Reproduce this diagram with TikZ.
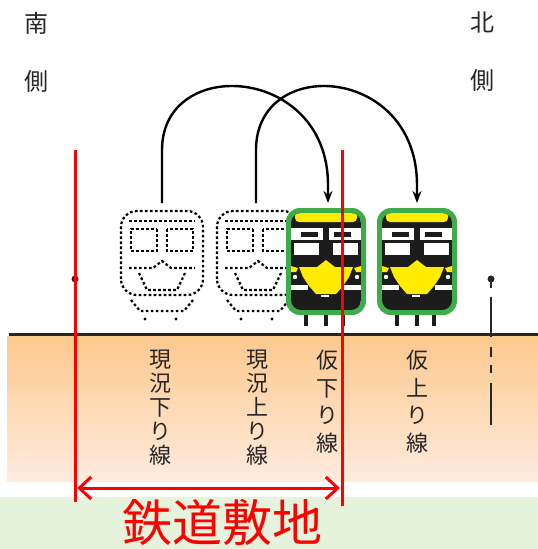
\documentclass[tikz,border=0pt]{standalone}
\usepackage{fontspec}
\newfontfamily\jpfont{Noto Sans CJK JP}
\usetikzlibrary{arrows.meta}

\definecolor{railred}{RGB}{255,0,0}
\definecolor{inkgray}{RGB}{38,38,38}
\definecolor{soiltop}{RGB}{253,201,142}
\definecolor{soilbottom}{RGB}{254,235,222}
\definecolor{lawn}{RGB}{229,242,220}
\definecolor{cabgreen}{RGB}{62,172,72}
\definecolor{cabyellow}{RGB}{255,236,0}
\definecolor{cabblack}{RGB}{28,28,28}

\tikzset{
  trackname/.style={font=\jpfont\fontsize{22}{#1}\selectfont, text=inkgray,
    align=center, anchor=north, inner sep=0pt},
  trackname/.default=24,
  sidename/.style={font=\jpfont\fontsize{24}{58}\selectfont, text=inkgray,
    align=center, inner sep=0pt},
  ghostline/.style={line width=2.2pt, dash pattern=on 2.6pt off 2.4pt, black},
  shiftarrow/.style={line width=2.4pt, -{Stealth[length=12pt,width=9pt]}},
  % front view of the new cars
  train/.pic={
    \fill[cabgreen, rounded corners=14] (-40,-53) rectangle (40,54);
    \begin{scope}
      \clip[rounded corners=10] (-35,-48) rectangle (35,49);
      \fill[cabblack] (-35,-48) rectangle (35,49);
      \fill[cabyellow, rounded corners=4] (-31,40) rectangle (31,52);
    \end{scope}
    \foreach \s in {-1,1} {
      \fill[white] (\s*3,34) rectangle (\s*35,22);
      \fill[cabblack] (\s*8,30) rectangle (\s*25,25);
      \fill[white] (\s*7,19) rectangle (\s*32,7);
      \fill[cabyellow] (\s*35,-4) -- (\s*28,-6) -- (\s*30,-10) -- (\s*35,-10) -- cycle;
      \fill[white] (\s*31,-15) circle (2.2);
      \fill[white] (\s*35,-23) rectangle (\s*18,-28);
    }
    \fill[cabyellow] (0,2) -- (9,-5) -- (27,-5) -- (23,-15) -- (17,-24) -- (10,-32)
      -- (-10,-32) -- (-17,-24) -- (-23,-15) -- (-27,-5) -- (-9,-5) -- cycle;
    \fill[white] (-5,-32.5) rectangle (3,-35);
    \foreach \x in {-20,0,17}
      \fill[cabblack] (\x-1.6,-53) rectangle (\x+1.6,-64);
  },
  % dotted outline of the old cars
  ghost/.pic={
    \draw[ghostline, rounded corners=16] (-41,-32) rectangle (41,52);
    \draw[ghostline] (-33,42) -- (33,42);
    \foreach \s in {-1,1}
      \draw[ghostline] (\s*5,34) rectangle (\s*31,12);
    \draw[ghostline] (-33,-5) -- (-9,-5) -- (0,2) -- (9,-5) -- (33,-5);
    \draw[ghostline] (-23,-10) -- (-15,-27) -- (15,-27) -- (23,-10);
    \draw[ghostline] (-31,-37) -- (-22,-48) -- (22,-48) -- (31,-37);
    \fill (-17,-56) circle (1.6);
    \fill (14,-56) circle (1.6);
  }
}

\begin{document}
\begin{tikzpicture}[x=1pt,y=1pt]
    \useasboundingbox (0,0) rectangle (538,-549);

    % ground and site strip
    \fill[lawn] (0,-497) rectangle (538,-549);
    \shade[top color=soiltop, bottom color=soilbottom] (7,-336) rectangle (538,-481);
    \draw[line width=3pt, inkgray] (9,-334.5) -- (538,-334.5);

    \node[sidename] (south) at (36,-52) {南\\側};
    \node[sidename] (north) at (482,-52) {北\\側};

    % poles at both edges
    \coordinate (poleS) at (75,-279);
    \coordinate (poleN) at (491,-279);
    \fill[inkgray] (poleS) circle (3.5);
    \fill[inkgray] (poleN) circle (3.5);
    \draw[line width=2.5pt, inkgray] (poleS) -- ++(0,-9);
    \draw[line width=2.5pt, inkgray] (poleN) -- ++(0,-9);
    \draw[line width=2.5pt, inkgray] (75,-296) -- (75,-334);
    \draw[line width=2.5pt, inkgray,
      dash pattern=on 40pt off 10pt on 10pt off 8pt on 8pt off 10pt on 42pt off 60pt]
      (491,-297) -- (491,-425);

    % old tracks (dotted) and temporary tracks
    \pic at (162,-263) {ghost};
    \pic at (258,-263) {ghost};
    \pic at (326,-262) {train};
    \pic at (417,-262) {train};

    \coordinate (ghostA) at (162,-203);
    \coordinate (ghostB) at (256,-203);
    \coordinate (cabA) at (328,-203);
    \coordinate (cabB) at (417,-203);
    \draw[shiftarrow] (ghostA) -- ++(0,53) .. controls +(0,95) and +(0,120) .. ([yshift=18pt]cabA) -- (cabA);
    \draw[shiftarrow] (ghostB) -- ++(0,53) .. controls +(0,95) and +(0,120) .. ([yshift=18pt]cabB) -- (cabB);

    \node[trackname] (downOld) at (160,-350) {現\\況\\下\\り\\線};
    \node[trackname] (upOld) at (257,-350) {現\\況\\上\\り\\線};
    \node[trackname=27.5] (downTmp) at (327,-350) {仮\\下\\り\\線};
    \node[trackname=27.5] (upTmp) at (417,-350) {仮\\上\\り\\線};

    % railway land boundary
    \coordinate (edgeS) at (75,-150);
    \coordinate (edgeN) at (342,-150);
    \draw[railred, line width=3pt] (edgeS) -- (75,-502);
    \draw[railred, line width=3pt] (edgeN) -- (342,-506);
    \draw[railred, line width=3pt, >={Straight Barb[length=12pt,width=22pt]}, <->]
      (77,-488) -- (340,-488);
    \node[font=\jpfont\fontsize{50}{50}\selectfont, text=railred, inner sep=0pt]
      (site) at (222,-522) {鉄道敷地};
\end{tikzpicture}
\end{document}
